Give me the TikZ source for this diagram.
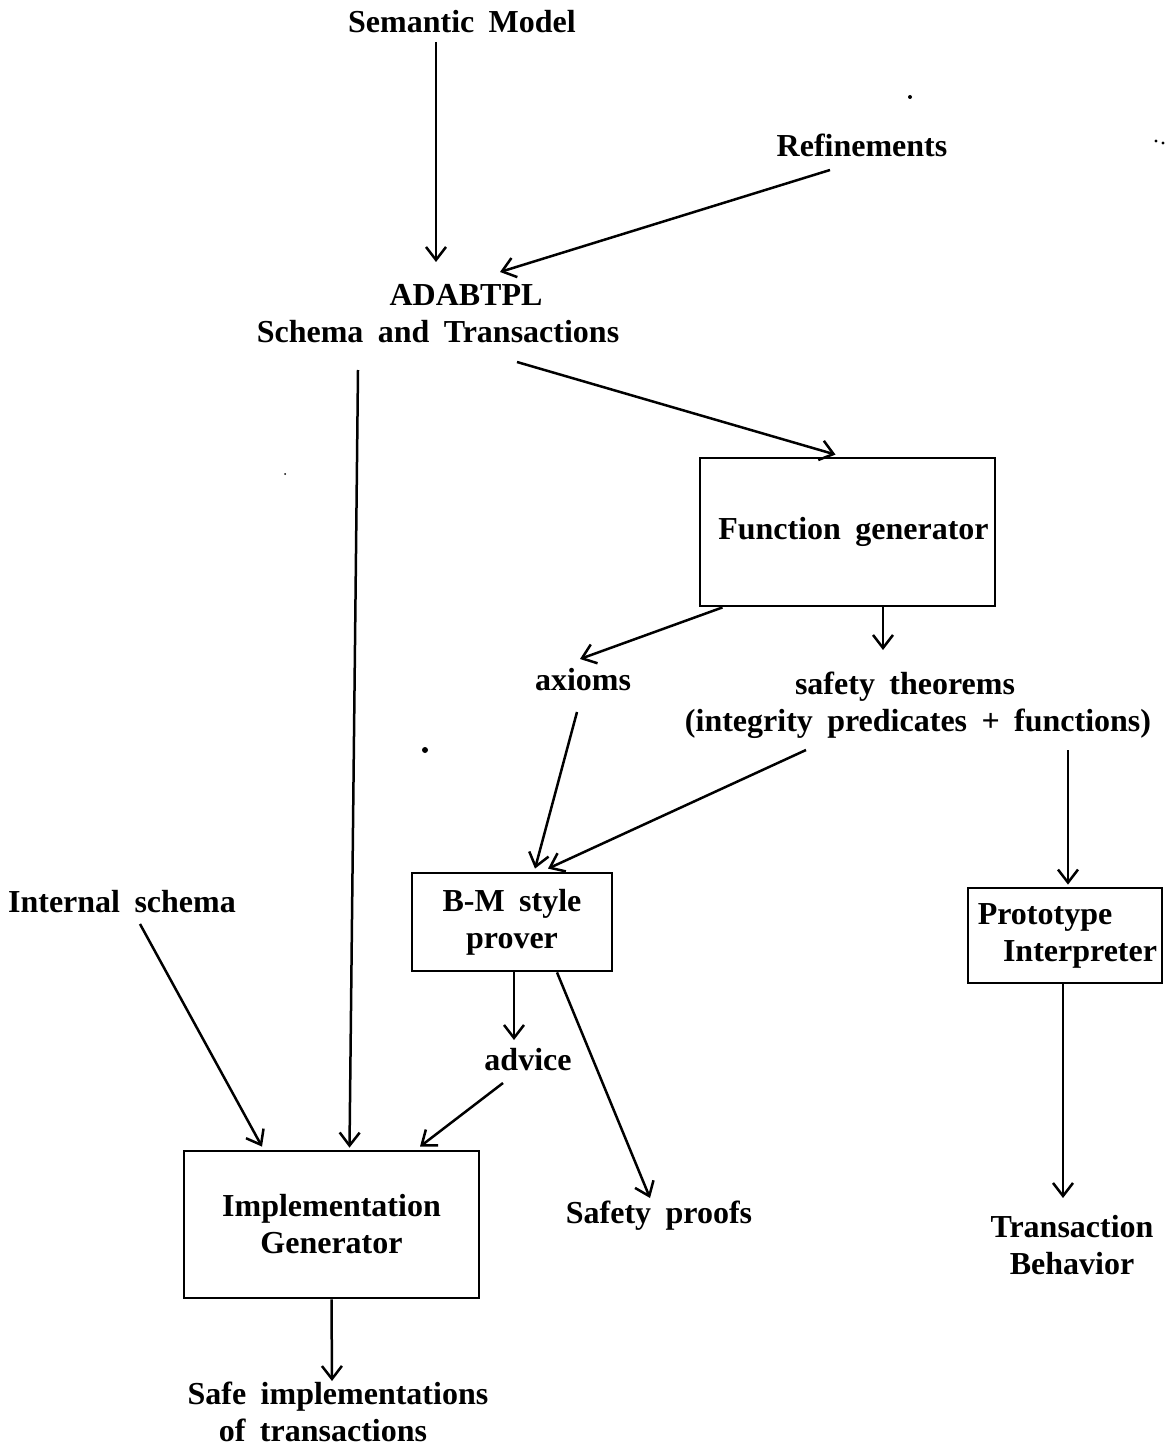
\documentclass[tikz,border=0pt]{standalone}
\usepackage{fontspec}
\setmainfont{Liberation Serif}
\usetikzlibrary{arrows.meta,calc}
\newcommand\diaglabfont{\fontsize{16}{18.5}\selectfont\bfseries\spaceskip 0.45em plus 0.1em\relax}
\tikzset{
  lab/.style={inner sep=0pt, align=center, font=\diaglabfont},
  boxnode/.style={draw, line width=1.4pt, inner sep=0pt, align=center, font=\diaglabfont},
  arr/.style={line width=1.25pt, -{Straight Barb[length=6.5pt,width=10pt,line width=1.25pt]}},
  speck/.style={fill=black, draw=none}
}
\begin{document}
\begin{tikzpicture}[x=0.5pt,y=-0.5pt]
\useasboundingbox (0,0) rectangle (1166,1449);
% labels
\node[lab] (sem) at (462,22) {Semantic Model};
\node[lab] (ref) at (862,145) {Refinements};
\node[lab] (ada) at (438,314) {\hspace*{28pt}ADABTPL\\Schema and Transactions};
\node[lab] (ax) at (583,680) {axioms};
\node[lab] (st) at (918,705) {safety theorems\hspace*{13pt}\\(integrity predicates + functions)};
\node[lab] (is) at (122,902) {Internal schema};
\node[lab] (adv) at (528,1060) {advice};
\node[lab] (sp) at (659,1216) {Safety proofs};
\node[lab] (tb) at (1072,1245) {Transaction\\Behavior};
\node[lab] (safe) at (338,1412) {Safe implementations\\of transactions\hspace*{15pt}};
% boxes
\node[boxnode, minimum width=147.5pt, minimum height=74pt] (fg) at (847.5,532) {\hspace*{6pt}Function generator};
\node[boxnode, minimum width=100pt, minimum height=49pt] (bm) at (512,922) {B-M style\\prover};
\node[boxnode, minimum width=97pt, minimum height=47.5pt] (pi) at (1065,935.5) {Prototype\hspace*{20pt}\\\hspace*{15pt}Interpreter};
\node[boxnode, minimum width=147.5pt, minimum height=73.5pt] (ig) at (331.5,1224.5) {Implementation\\Generator};
% connectors
\draw[arr] ($(sem.center)+(-26,20)$) -- ($(ada.center)+(-2,-52)$);
\draw[arr] ($(ref.center)+(-32,25)$) -- ($(ada.center)+(62,-42)$);
\draw[arr] ($(ada.center)+(-80,56)$) -- ($(ig.north)+(18,-2)$);
\draw[arr] ($(ada.center)+(79,48)$) -- ($(fg.north)+(-12,-2)$);
\draw[arr] ($(fg.south)+(-125,0)$) -- ($(ax.center)+(-3,-21)$);
\draw[arr] ($(fg.south)+(35.5,0)$) -- ($(st.center)+(-35,-55)$);
\draw[arr] ($(ax.center)+(-6,32)$) -- ($(bm.north)+(23,-3)$);
\draw[arr] ($(st.center)+(-112,45)$) -- ($(bm.north)+(36,-3)$);
\draw[arr] ($(st.center)+(150,45)$) -- ($(pi.north)+(3,-2)$);
\draw[arr] ($(bm.south)+(2,0)$) -- ($(adv.center)+(-14,-20)$);
\draw[arr] ($(bm.south)+(45,0)$) -- ($(sp.center)+(-9,-18)$);
\draw[arr] ($(pi.south)+(-2,0)$) -- ($(tb.center)+(-9,-47)$);
\draw[arr] ($(is.center)+(18,22)$) -- ($(ig.north)+(-69.5,-3)$);
\draw[arr] ($(adv.center)+(-25,23)$) -- ($(ig.north)+(88.5,-3)$);
\draw[arr] (ig.south) -- ($(safe.center)+(-6,-31)$);
% scanning specks
\fill[speck] (910,97) circle (1pt);
\fill[speck] (1156,141) circle (0.8pt);
\fill[speck] (1163,143) circle (0.8pt);
\fill[speck] (425,750) circle (1.5pt);
\fill[speck] (285,474) circle (0.5pt);
\end{tikzpicture}
\end{document}
